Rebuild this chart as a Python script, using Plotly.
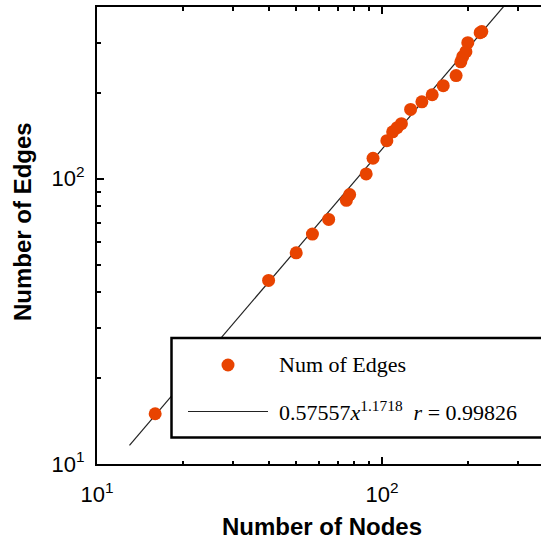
import numpy as np
import plotly.graph_objects as go

# Data
nodes = [16, 40, 50, 57, 65, 75, 77, 88, 93, 104, 109, 113, 117, 126, 138, 150,
         164, 182, 189, 192, 197, 200, 221, 224]
edges = [15, 44, 55, 64, 72, 84, 88, 104, 118, 136, 146, 151, 156, 175, 186, 197,
         212, 230, 257, 268, 279, 300, 325, 328]

fit_coef = 0.57557
fit_exp = 1.1718
fit_r = 0.99826
fit_x = [13, 320]
fit_y = [fit_coef * v ** fit_exp for v in fit_x]

major_ticks = [10, 100, 1000]
major_text = ["10<sup>1</sup>", "10<sup>2</sup>", "10<sup>3</sup>"]
minor_ticks = [20, 30, 40, 50, 60, 70, 80, 90, 200, 300, 400, 500, 600, 700, 800, 900]

ORANGE = "#E84300"
SANS = "Liberation Sans, Arial, Helvetica, sans-serif"
SERIF = "Liberation Serif, Times New Roman, serif"

fig = go.Figure()
fig.add_trace(go.Scatter(x=fit_x, y=fit_y, mode="lines",
                         line=dict(color="#222222", width=1.2),
                         showlegend=False, hoverinfo="skip"))
fig.add_trace(go.Scatter(x=nodes, y=edges, mode="markers",
                         marker=dict(color=ORANGE, size=13, line=dict(width=0)),
                         showlegend=False, cliponaxis=False))

axis_common = dict(
    type="log",
    tickmode="array",
    tickvals=major_ticks,
    ticktext=major_text,
    ticks="inside",
    ticklen=7,
    tickwidth=1.5,
    tickcolor="black",
    showline=True,
    linecolor="black",
    linewidth=2,
    showgrid=False,
    zeroline=False,
    tickfont=dict(family=SANS, size=22, color="black"),
    minor=dict(tickmode="array", tickvals=minor_ticks, ticks="inside",
               ticklen=3.5, tickwidth=1.5, tickcolor="black", showgrid=False),
)

fig.update_xaxes(**axis_common, range=[1, 1 + 444 / 285], mirror="ticks",
                 ticklabelstandoff=10)
fig.update_yaxes(**axis_common, range=[1, np.log10(400)], mirror=False,
                 ticklabelstandoff=6)

# Plot area in pixels: x 97..541, y 7..464
def px(xp):
    return (xp - 97) / 444.0

def py(yp):
    return (464 - yp) / 457.0

shapes = [
    dict(type="rect", xref="paper", yref="paper",
         x0=px(171.5), x1=px(600), y0=py(437.5), y1=py(338),
         line=dict(color="black", width=2.5), fillcolor="white", layer="above"),
    dict(type="line", xref="paper", yref="paper",
         x0=px(188), x1=px(268), y0=py(411.5), y1=py(411.5),
         line=dict(color="#222222", width=1.2), layer="above"),
    dict(type="circle", xref="paper", yref="paper",
         xsizemode="pixel", ysizemode="pixel",
         xanchor=px(228), yanchor=py(365),
         x0=-6.5, x1=6.5, y0=-6.5, y1=6.5,
         line=dict(width=0), fillcolor=ORANGE, layer="above"),
]

annotations = [
    dict(text="Num of Edges", xref="paper", yref="paper",
         x=px(277), y=py(364), xanchor="left", yanchor="middle", showarrow=False,
         font=dict(family=SERIF, size=22, color="black")),
    dict(text=f"{fit_coef}<i>x</i><sup>{fit_exp}</sup>  <i>r</i> = {fit_r}",
         xref="paper", yref="paper",
         x=px(277), y=py(411), xanchor="left", yanchor="middle", showarrow=False,
         font=dict(family=SERIF, size=22, color="black")),
    dict(text="<b>Number of Nodes</b>", xref="paper", yref="paper",
         x=px(322), y=py(526), xanchor="center", yanchor="middle", showarrow=False,
         font=dict(family=SANS, size=24, color="black")),
    dict(text="<b>Number of Edges</b>", xref="paper", yref="paper",
         x=px(22), y=py(222), xanchor="center", yanchor="middle", showarrow=False,
         textangle=-90, font=dict(family=SANS, size=24, color="black")),
]

fig.update_layout(
    width=541, height=540,
    margin=dict(l=97, r=0, t=7, b=76, pad=0),
    plot_bgcolor="white", paper_bgcolor="white",
    shapes=shapes, annotations=annotations,
    showlegend=False,
)

fig.write_html("out.html")
